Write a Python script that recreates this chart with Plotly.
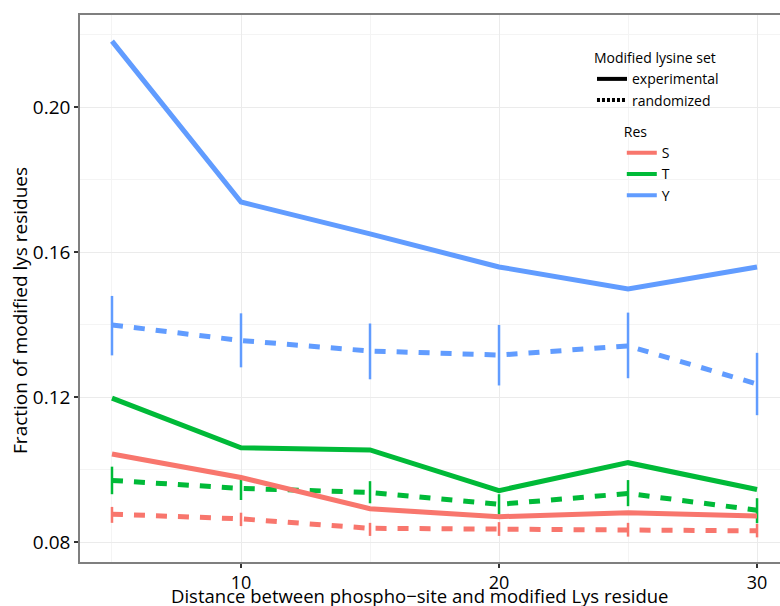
import plotly.graph_objects as go

# ---- data ----
distance = [5, 10, 15, 20, 25, 30]
residues = ["S", "T", "Y"]
colors = {"S": "#F8766D", "T": "#00BA38", "Y": "#619CFF"}

exp_S = [0.1043, 0.0978, 0.0892, 0.0870, 0.0881, 0.0872]
exp_T = [0.1197, 0.1060, 0.1054, 0.0942, 0.1019, 0.0945]
exp_Y = [0.2182, 0.1738, 0.1650, 0.1559, 0.1498, 0.1559]

rnd_S = [0.0877, 0.0864, 0.0838, 0.0836, 0.0835, 0.0831]
rnd_S_hi = [0.0897, 0.0881, 0.0853, 0.0855, 0.0853, 0.0850]
rnd_S_lo = [0.0853, 0.0844, 0.0817, 0.0817, 0.0815, 0.0813]

rnd_T = [0.0970, 0.0948, 0.0937, 0.0904, 0.0934, 0.0888]
rnd_T_hi = [0.1008, 0.0982, 0.0968, 0.0932, 0.0971, 0.0921]
rnd_T_lo = [0.0932, 0.0916, 0.0907, 0.0876, 0.0899, 0.0852]

rnd_Y = [0.1399, 0.1356, 0.1327, 0.1316, 0.1341, 0.1236]
rnd_Y_hi = [0.1479, 0.1431, 0.1403, 0.1399, 0.1433, 0.1322]
rnd_Y_lo = [0.1315, 0.1282, 0.1249, 0.1232, 0.1252, 0.1150]

experimental = {"S": exp_S, "T": exp_T, "Y": exp_Y}
randomized = {"S": (rnd_S, rnd_S_hi, rnd_S_lo),
              "T": (rnd_T, rnd_T_hi, rnd_T_lo),
              "Y": (rnd_Y, rnd_Y_hi, rnd_Y_lo)}

FONT = "Open Sans"
fig = go.Figure()

# randomized (dashed with error bars)
for r in residues:
    m, hi, lo = randomized[r]
    fig.add_trace(go.Scatter(
        x=distance, y=m, mode="lines", showlegend=False,
        line=dict(color=colors[r], width=5, dash="11px,11px"),
        error_y=dict(type="data", symmetric=False,
                     array=[h - v for h, v in zip(hi, m)],
                     arrayminus=[v - l for v, l in zip(m, lo)],
                     color=colors[r], thickness=2.5, width=0),
    ))

# experimental (solid)
for r in residues:
    fig.add_trace(go.Scatter(
        x=distance, y=experimental[r], mode="lines", showlegend=False,
        line=dict(color=colors[r], width=5),
    ))

# legend entries: linetype
fig.add_trace(go.Scatter(x=[None], y=[None], mode="lines", name="experimental",
                         line=dict(color="black", width=4), legend="legend"))
fig.add_trace(go.Scatter(x=[None], y=[None], mode="lines", name="randomized",
                         line=dict(color="black", width=4, dash="3px,2px"),
                         legend="legend"))
# legend entries: residue colour
for r in residues:
    fig.add_trace(go.Scatter(x=[None], y=[None], mode="lines", name=r,
                             line=dict(color=colors[r], width=4),
                             legend="legend2"))

grid_major = "#EBEBEB"
grid_minor = "#F4F4F4"

fig.update_layout(
    width=780, height=606,
    margin=dict(l=80, r=0, t=15, b=44),
    paper_bgcolor="white", plot_bgcolor="white",
    font=dict(family=FONT, size=14, color="black"),
    xaxis=dict(
        range=[3.76, 30.89], tick0=0, dtick=10,
        showgrid=True, gridcolor=grid_major, gridwidth=1,
        minor=dict(dtick=5, tick0=0, showgrid=True, gridcolor=grid_minor, gridwidth=1),
        showline=True, linecolor="#7F7F7F", linewidth=1.5, mirror=True,
        ticks="outside", ticklen=4, tickwidth=1.5, tickcolor="#333333",
        tickfont=dict(family=FONT, size=18, color="black"),
        zeroline=False,
    ),
    yaxis=dict(
        range=[0.0745, 0.2254], tick0=0, dtick=0.04, tickformat=".2f",
        showgrid=True, gridcolor=grid_major, gridwidth=1,
        minor=dict(dtick=0.02, tick0=0, showgrid=True, gridcolor=grid_minor, gridwidth=1),
        showline=True, linecolor="#7F7F7F", linewidth=1.5, mirror=False,
        ticks="outside", ticklen=4, tickwidth=1.5, tickcolor="#333333",
        tickfont=dict(family=FONT, size=19, color="black"),
        zeroline=False,
    ),
    legend=dict(
        title=dict(text="Modified lysine set", font=dict(size=14)),
        x=0.7314, y=0.945, xanchor="left", yanchor="top",
        bgcolor="rgba(0,0,0,0)", itemwidth=30, tracegroupgap=0,
        font=dict(size=14),
    ),
    legend2=dict(
        title=dict(text="Res", font=dict(size=14)),
        x=0.774, y=0.81, xanchor="left", yanchor="top",
        bgcolor="rgba(0,0,0,0)", itemwidth=30, tracegroupgap=0,
        font=dict(size=14),
    ),
    annotations=[
        dict(text="Distance between phospho\u2212site and modified Lys residue",
             xref="paper", yref="paper", x=0.4857, y=-0.0605,
             xanchor="center", yanchor="middle", showarrow=False,
             font=dict(family=FONT, size=18.5, color="black")),
        dict(text="Fraction of modified lys residues",
             xref="paper", yref="paper", x=-0.0857, y=0.459,
             xanchor="center", yanchor="middle", showarrow=False, textangle=-90,
             font=dict(family=FONT, size=19, color="black")),
    ],
)

fig.write_html("out.html")
